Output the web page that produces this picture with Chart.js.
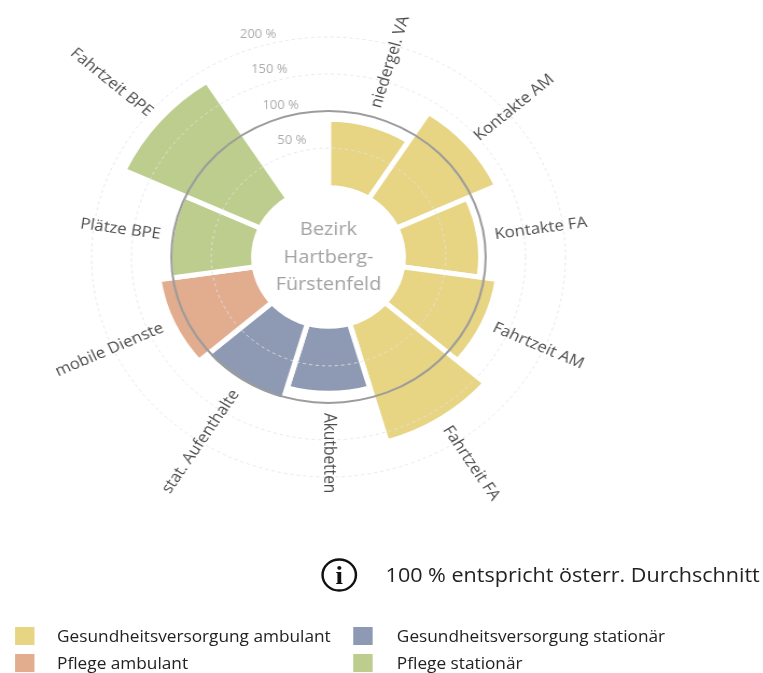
<!DOCTYPE html>
<html lang="de">
<head>
<meta charset="UTF-8">
<title>Bezirk Hartberg-Fürstenfeld</title>
<script src="https://cdn.jsdelivr.net/npm/chart.js@4"></script>
<style>
  html, body { margin: 0; padding: 0; background: #fff; }
  body { width: 763px; height: 673px; overflow: hidden; font-family: 'Open Sans', sans-serif; }
  /* the reference picture is a little wider than tall, so the whole page is stretched */
  #page { position: absolute; left: 0; top: 0; width: 709px; height: 673px; transform: scaleX(1.077); transform-origin: 0 0; }
  #chartBox { position: absolute; left: 0; top: 0; width: 610px; height: 514px; }
  #info { position: absolute; left: 297px; top: 557px; }
  #infoText { position: absolute; left: 358px; top: 562px; font-size: 20px; line-height: 26px; color: #222; white-space: nowrap; }
  .leg { position: absolute; font-size: 16px; line-height: 20px; color: #222; white-space: nowrap; }
  .leg span { position: absolute; top: 1px; width: 18px; height: 18px; }
</style>
</head>
<body>
<div id="page">
  <div id="chartBox"><canvas id="rose"></canvas></div>

  <svg id="info" width="36" height="36" viewBox="0 0 36 36">
    <circle cx="18" cy="18" r="15.5" fill="none" stroke="#111" stroke-width="2.3"/>
    <text x="18" y="27" text-anchor="middle" font-family="Liberation Serif" font-weight="bold" font-size="25" fill="#111">i</text>
  </svg>
  <div id="infoText">100 % entspricht österr. Durchschnitt</div>

  <div id="legend"></div>
</div>

<script>
// categories clockwise from 12 o'clock, the last slot stays empty
var kategorien = ['niedergel. VA', 'Kontakte AM', 'Kontakte FA', 'Fahrtzeit AM', 'Fahrtzeit FA',
                  'Akutbetten', 'stat. Aufenthalte', 'mobile Dienste', 'Plätze BPE', 'Fahrtzeit BPE', ''];
// in % of the Austrian average
var werte = [89, 135, 94, 117, 163, 87, 105, 118, 102, 185, null];
// which group each category belongs to
var gruppeJeKategorie = [0, 0, 0, 0, 0, 1, 1, 2, 3, 3, null];
var gruppen = ['Gesundheitsversorgung ambulant', 'Gesundheitsversorgung stationär', 'Pflege ambulant', 'Pflege stationär'];
var tickWerte = [50, 100, 150, 200];
var zentrumText = ['Bezirk', 'Hartberg-', 'Fürstenfeld'];

var farben = ['#E7D584', '#8E9AB3', '#E2AC8F', '#BDCD8E'];

// legend in two columns (html)
var legend = document.getElementById('legend');
gruppen.forEach(function (name, i) {
    var col = i % 2, row = Math.floor(i / 2);
    var d = document.createElement('div');
    d.className = 'leg';
    d.style.left = (col === 0 ? 14 : 328) + 'px';
    d.style.top = (626 + row * 27) + 'px';
    d.innerHTML = '<span style="left:0;background:' + farben[i] + '"></span>' +
        '<div style="position:absolute;left:' + (col === 0 ? 39 : 40.5) + 'px;top:0">' + name + '</div>';
    legend.appendChild(d);
});

var roseDeko = {
    id: 'roseDeko',
    afterDatasetsDraw: function (chart) {
        var s = chart.scales.r, ctx = chart.ctx;
        ctx.save();
        // white hole in the middle
        ctx.beginPath();
        ctx.arc(s.xCenter, s.yCenter, s.getDistanceFromCenterForValue(0), 0, Math.PI * 2);
        ctx.fillStyle = '#fff';
        ctx.fill();
        ctx.font = '18.5px "Open Sans"';
        ctx.fillStyle = '#a3a3a3';
        ctx.textAlign = 'center';
        ctx.textBaseline = 'middle';
        zentrumText.forEach(function (t, i) {
            ctx.fillText(t, s.xCenter, s.yCenter + (i - 1) * 27.5 + 0.5);
        });
        ctx.restore();
    },
    afterDraw: function (chart) {
        var s = chart.scales.r, ctx = chart.ctx;
        var step = Math.PI * 2 / kategorien.length;
        ctx.save();

        // tick labels sit in the empty slot
        var ta = s.getIndexAngle(kategorien.length - 1) + step / 2 - Math.PI / 2;
        ctx.font = '12px "Open Sans"';
        ctx.fillStyle = '#ababab';
        ctx.textAlign = 'center';
        ctx.textBaseline = 'middle';
        tickWerte.forEach(function (v) {
            var d = s.getDistanceFromCenterForValue(v) + 12;
            ctx.fillText(v + ' %', s.xCenter + Math.cos(ta) * d, s.yCenter + Math.sin(ta) * d);
        });

        // category labels, rotated along the radius
        ctx.font = '15.5px "Open Sans"';
        ctx.fillStyle = '#4d4d4d';
        kategorien.forEach(function (name, i) {
            if (!name) return;
            var a = s.getIndexAngle(i) + step / 2;
            var d = s.getDistanceFromCenterForValue(Math.max(werte[i], 100)) + 10;
            ctx.save();
            ctx.translate(s.xCenter, s.yCenter);
            if (a <= Math.PI + 0.01) {
                ctx.rotate(a - Math.PI / 2);
                ctx.textAlign = 'left';
                ctx.fillText(name, d, 0);
            } else {
                ctx.rotate(a + Math.PI / 2);
                ctx.textAlign = 'right';
                ctx.fillText(name, -d, 0);
            }
            ctx.restore();
        });
        ctx.restore();
    }
};

new Chart(document.getElementById('rose'), {
    type: 'polarArea',
    data: {
        labels: kategorien,
        datasets: [{
            data: werte,
            backgroundColor: gruppeJeKategorie.map(function (g) { return g === null ? 'transparent' : farben[g]; }),
            borderColor: '#fff',
            borderWidth: 5
        }]
    },
    options: {
        responsive: true,
        maintainAspectRatio: false,
        animation: false,
        layout: { padding: { left: 85, right: 85, top: 37, bottom: 37 } },
        plugins: { legend: { display: false }, tooltip: { enabled: false } },
        scales: {
            r: {
                min: -97,
                max: 200,
                ticks: { display: false, stepSize: 50 },
                angleLines: { display: false },
                pointLabels: { display: false },
                grid: {
                    z: 1,
                    circular: true,
                    color: function (c) { return c.tick && c.tick.value === 100 ? '#9c9c9c' : 'rgba(228,228,228,0.85)'; },
                    lineWidth: function (c) {
                        if (!c.tick || c.tick.value <= 0) return 0;
                        return c.tick.value === 100 ? 2 : 1;
                    }
                },
                border: {
                    dash: function (c) { return c.tick && c.tick.value === 100 ? [] : [3, 3]; }
                }
            }
        }
    },
    plugins: [roseDeko]
});
</script>
</body>
</html>
